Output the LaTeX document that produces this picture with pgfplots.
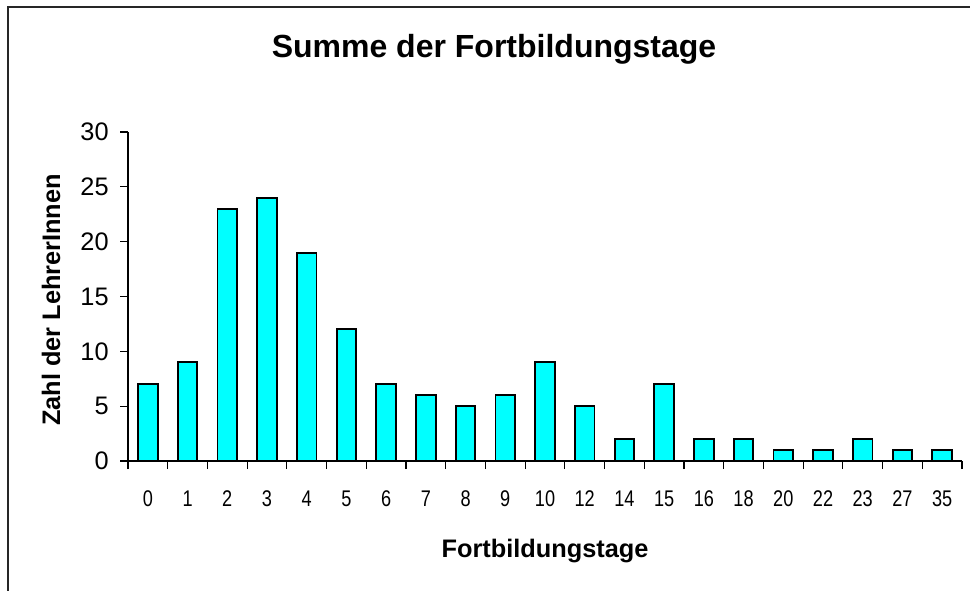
\documentclass[border=0pt]{standalone}
\usepackage{fontspec}
\setmainfont{Liberation Sans}
\newfontfamily\narrowfont[FakeStretch=0.8]{Liberation Sans}
\usepackage{pgfplots}
\pgfplotsset{compat=1.18}
\definecolor{barcyan}{RGB}{0,255,255}
\begin{document}
\begin{tikzpicture}
\useasboundingbox (0,0) rectangle ({970*0.75pt},{-590*0.75pt});
\draw[line width=1pt, black!85] ({8*0.75pt},{-592*0.75pt}) -- ({8*0.75pt},{-7*0.75pt}) -- ({972*0.75pt},{-7*0.75pt});
\begin{axis}[
  at={({128*0.75pt},{-461*0.75pt})}, anchor=south west,
  scale only axis, width=625.5pt, height=246.75pt,
  xmin=-0.5, xmax=20.5, ymin=0, ymax=30,
  axis x line*=bottom, axis y line*=left,
  axis line style={-, line width=0.9pt},
  ytick={0,5,...,30},
  xtick={0,...,20},
  xticklabels={0,1,2,3,4,5,6,7,8,9,10,12,14,15,16,18,20,22,23,27,35},
  minor xtick={-0.5,0.5,...,20.5},
  major x tick style={draw=none},
  minor tick length=6pt,
  major tick length=6pt,
  tick align=outside,
  tick style={line width=0.9pt, black},
  /pgf/number format/assume math mode=true,
  yticklabel style={font=\fontsize{19pt}{19pt}\selectfont, xshift=-5pt},
  xticklabel style={font=\narrowfont\fontsize{17pt}{17pt}\selectfont, anchor=north, text height=12.5pt, text depth=0pt, yshift=-12pt},
  ybar, bar width=0.49,
]
\addplot[fill=barcyan, draw=black, line width=1.4pt] coordinates {
(0,7) (1,9) (2,23) (3,24) (4,19) (5,12) (6,7) (7,6) (8,5) (9,6) (10,9)
(11,5) (12,2) (13,7) (14,2) (15,2) (16,1) (17,1) (18,2) (19,1) (20,1)
};
\end{axis}
\node[anchor=base, font=\bfseries\fontsize{24pt}{24pt}\selectfont] at ({494*0.75pt},{-57*0.75pt}) {Summe der Fortbildungstage};
\node[anchor=base, font=\bfseries\fontsize{19pt}{19pt}\selectfont] at ({545*0.75pt},{-557*0.75pt}) {Fortbildungstage};
\node[anchor=base, rotate=90, font=\bfseries\fontsize{19pt}{19pt}\selectfont] at ({60*0.75pt},{-300*0.75pt}) {Zahl der LehrerInnen};
\end{tikzpicture}
\end{document}
